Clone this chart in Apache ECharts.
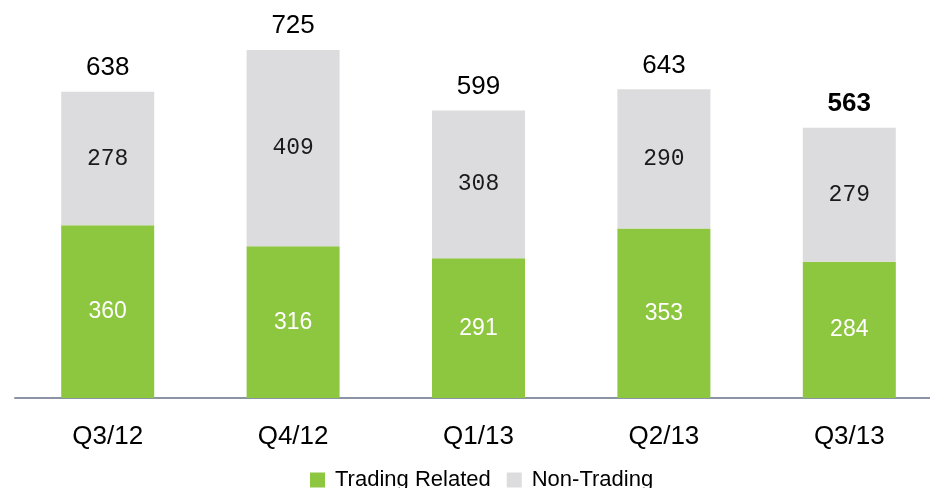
<!DOCTYPE html>
<html>
<head>
<meta charset="utf-8">
<script src="https://cdn.jsdelivr.net/npm/echarts@6/dist/echarts.min.js"></script>
<style>
	html, body {margin: 0; padding: 0; background: #fff;}
	#chart {width: 930px; height: 488px;}
</style>
</head>
<body>
<div id="chart"></div>
<script>
const quarters = ['Q3/12', 'Q4/12', 'Q1/13', 'Q2/13', 'Q3/13'];
const tradingRelated = [360, 316, 291, 353, 284];
const nonTrading = [278, 409, 308, 290, 279];
const totals = [638, 725, 599, 643, 563];

const chart = echarts.init(document.getElementById('chart'));

// 顶部合计标签，最后一个加粗
const totalData = totals.map((t, i) => ({
	value: 0,
	label: {fontWeight: i === totals.length - 1 ? 'bold' : 'normal'}
}));

const option = {
	animation: false,
	grid: {
		left: 15,
		width: 927,
		top: 14,
		bottom: 90,
		outerBoundsMode: 'none'
	},
	legend: {
		data: ['Trading Related', 'Non-Trading'],
		left: 305,
		top: 464,
		itemWidth: 15,
		itemHeight: 15,
		itemGap: 16,
		icon: 'rect',
		textStyle: {
			fontFamily: 'Liberation Sans, Arial',
			fontSize: 22,
			color: '#000',
			padding: [0, 0, 0, 5]
		}
	},
	xAxis: {
		type: 'category',
		data: quarters,
		axisTick: {show: false},
		axisLine: {
			lineStyle: {color: '#8a94a4', width: 2}
		},
		axisLabel: {
			margin: 26,
			fontFamily: 'Liberation Sans, Arial',
			fontSize: 26,
			color: '#000'
		}
	},
	yAxis: {
		type: 'value',
		min: 0,
		max: 800,
		show: false,
		splitLine: {show: false}
	},
	series: [{
		name: 'Trading Related',
		type: 'bar',
		stack: 'all',
		barWidth: 93,
		data: tradingRelated,
		itemStyle: {color: '#8dc63f'},
		label: {
			show: true,
			position: 'inside',
			color: '#fff',
			fontFamily: 'Liberation Sans, Arial',
			fontSize: 23
		}
	}, {
		name: 'Non-Trading',
		type: 'bar',
		stack: 'all',
		data: nonTrading,
		itemStyle: {color: '#dcdcde'},
		label: {
			show: true,
			position: 'inside',
			color: '#1a1a1a',
			fontFamily: 'Liberation Mono, Courier New, monospace',
			fontSize: 23
		}
	}, {
		name: 'total',
		type: 'bar',
		stack: 'all',
		data: totalData,
		itemStyle: {color: 'transparent'},
		label: {
			show: true,
			position: 'top',
			distance: 11,
			color: '#000',
			fontFamily: 'Liberation Sans, Arial',
			fontSize: 26,
			formatter: p => totals[p.dataIndex]
		}
	}]
};
chart.setOption(option);
</script>
</body>
</html>
